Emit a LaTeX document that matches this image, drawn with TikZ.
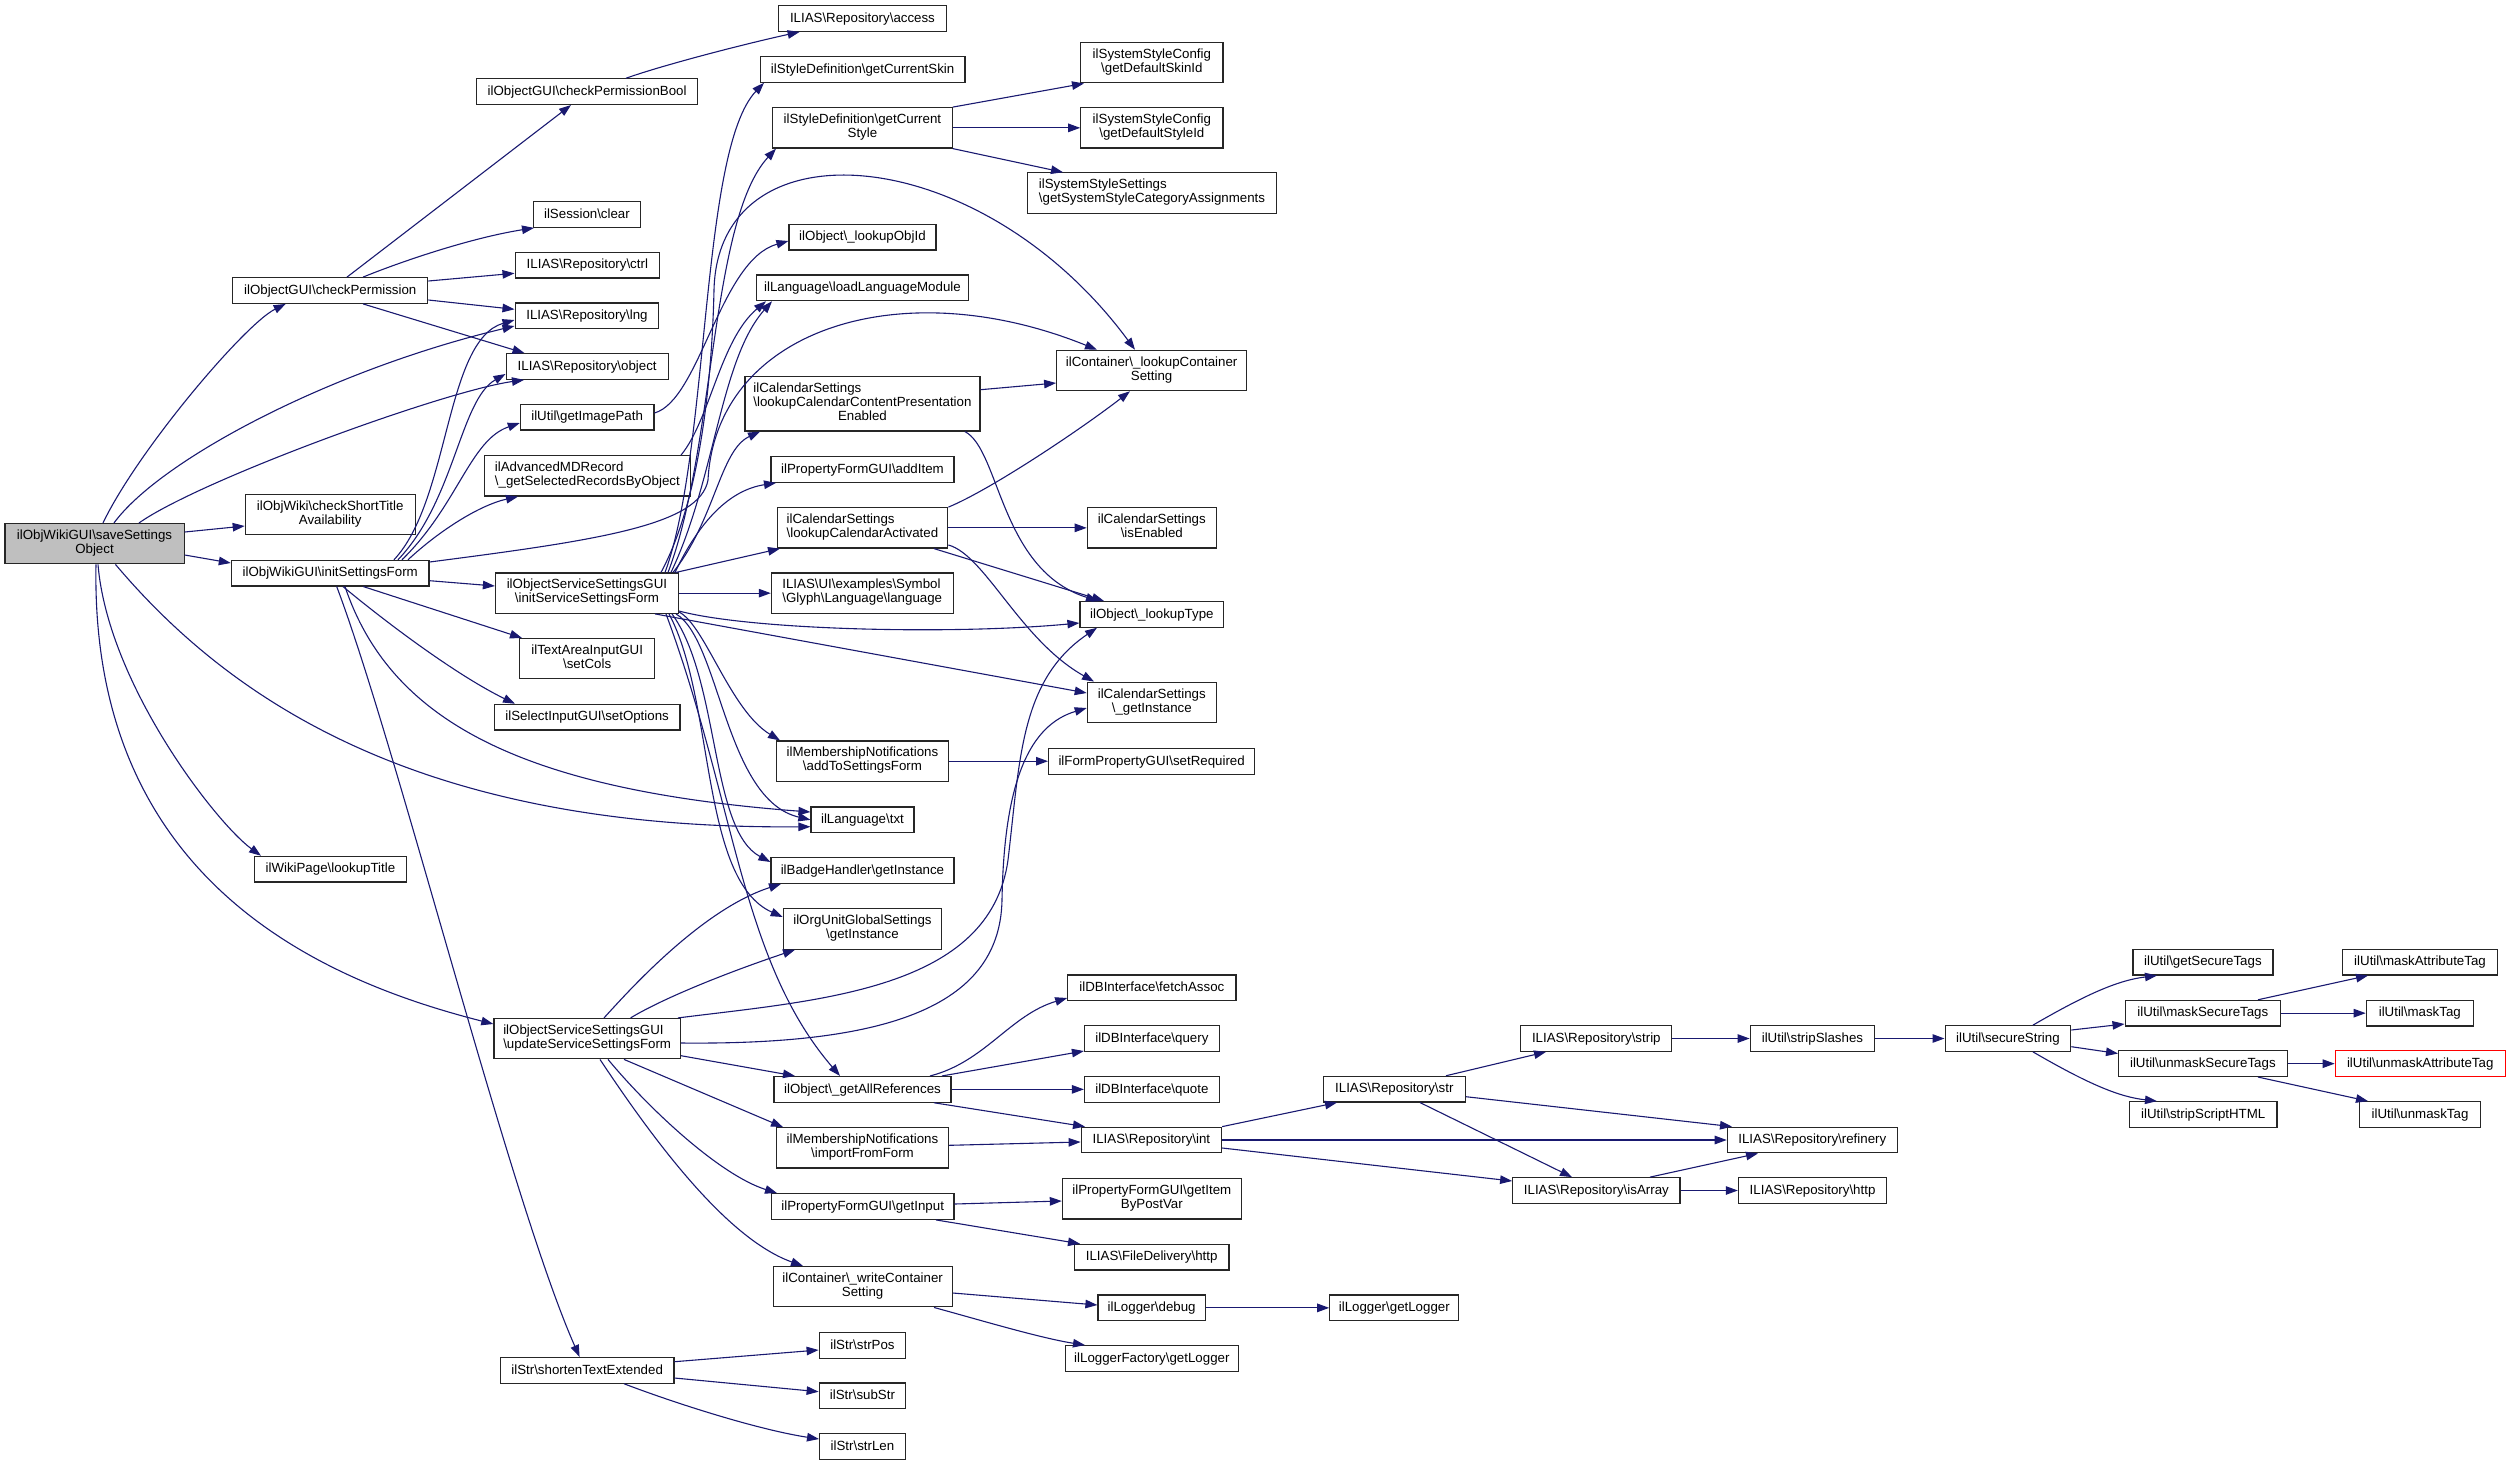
\documentclass[tikz,border=0pt]{standalone}
\usepackage{fontspec}
\setmainfont{Liberation Sans}
\usetikzlibrary{arrows.meta}
\definecolor{edgeblue}{HTML}{191970}
\definecolor{rootgray}{HTML}{BFBFBF}
\def\BSL{\textbackslash}
\def\NTwo#1#2{\begin{tabular}{@{}l@{}}#1\\\multicolumn{1}{@{}c@{}}{#2}\end{tabular}}
\def\NThree#1#2#3{\begin{tabular}{@{}l@{}}#1\\#2\\\multicolumn{1}{@{}c@{}}{#3}\end{tabular}}
\tikzset{
  nb/.style={draw=black!85, line width=1.2pt, fill=white, inner sep=0pt, minimum height=25.6pt,
    font=\fontsize{13.3}{14}\selectfont, execute at begin node={\rule[-3.2pt]{0pt}{14pt}}},
  nb2/.style={nb, minimum height=40.3pt},
  nb3/.style={nb, minimum height=54.3pt},
  call/.style={draw=edgeblue, line width=1.1pt, -{Triangle[length=12pt,width=8.5pt]}}
}
\begin{document}
\begin{tikzpicture}[x=1pt,y=-1pt]
\useasboundingbox (0,0) rectangle (2509,1465);
% ---------------- nodes ----------------
\node[nb2, fill=rootgray, minimum width=179.2pt] (S) at (94.5,543.7) {\NTwo{ilObjWikiGUI\BSL saveSettings}{Object}};
\node[nb, minimum width=195.1pt] (cp) at (330.25,290.5) {ilObjectGUI\BSL checkPermission};
\node[nb2, minimum width=169.8pt] (cs) at (330.2,514.3) {\NTwo{ilObjWiki\BSL checkShortTitle}{Availability}};
\node[nb, minimum width=197.6pt] (isf) at (330.2,573.15) {ilObjWikiGUI\BSL initSettingsForm};
\node[nb, minimum width=151.4pt] (lt) at (330.4,869.15) {ilWikiPage\BSL lookupTitle};
\node[nb, minimum width=220.9pt] (cpb) at (587.15,91.65) {ilObjectGUI\BSL checkPermissionBool};
\node[nb, minimum width=106.9pt] (clr) at (586.95,214.5) {ilSession\BSL clear};
\node[nb, minimum width=144.5pt] (ctrl) at (587.35,265.15) {ILIAS\BSL Repository\BSL ctrl};
\node[nb, minimum width=143.7pt] (lng) at (586.95,315.85) {ILIAS\BSL Repository\BSL lng};
\node[nb, minimum width=162.1pt] (obj) at (587.15,366.5) {ILIAS\BSL Repository\BSL object};
\node[nb, minimum width=133.5pt] (gip) at (587.15,417.15) {ilUtil\BSL getImagePath};
\node[nb2, minimum width=205.7pt] (amd) at (587.35,475.85) {\NTwo{ilAdvancedMDRecord}{\BSL\_getSelectedRecordsByObject}};
\node[nb2, minimum width=182.9pt] (iss) at (586.95,593.15) {\NTwo{ilObjectServiceSettingsGUI}{\BSL initServiceSettingsForm}};
\node[nb2, minimum width=135.1pt] (scol) at (587.15,658.7) {\NTwo{ilTextAreaInputGUI}{\BSL setCols}};
\node[nb, minimum width=185.7pt] (sopt) at (587.15,717.15) {ilSelectInputGUI\BSL setOptions};
\node[nb2, minimum width=186.5pt] (uss) at (587.15,1038.65) {\NTwo{ilObjectServiceSettingsGUI}{\BSL updateServiceSettingsForm}};
\node[nb, minimum width=173.5pt] (ste) at (587.15,1370.35) {ilStr\BSL shortenTextExtended};
\node[nb, minimum width=168.1pt] (acc) at (862.45,18.5) {ILIAS\BSL Repository\BSL access};
\node[nb, minimum width=204.5pt] (skin) at (862.65,69.35) {ilStyleDefinition\BSL getCurrentSkin};
\node[nb2, minimum width=179.5pt] (style) at (862.45,127.85) {\NTwo{ilStyleDefinition\BSL getCurrent}{Style}};
\node[nb, minimum width=146.9pt] (loid) at (862.45,237.15) {ilObject\BSL\_lookupObjId};
\node[nb, minimum width=211.5pt] (llm) at (862.45,287.85) {ilLanguage\BSL loadLanguageModule};
\node[nb3, minimum width=235.1pt] (cpe) at (862.45,403.85) {\NThree{ilCalendarSettings}{\BSL lookupCalendarContentPresentation}{Enabled}};
\node[nb, minimum width=182.9pt] (add) at (862.45,469.5) {ilPropertyFormGUI\BSL addItem};
\node[nb2, minimum width=170.7pt] (lca) at (862.45,527.85) {\NTwo{ilCalendarSettings}{\BSL lookupCalendarActivated}};
\node[nb2, minimum width=181.7pt] (sym) at (862.25,593.15) {\NTwo{ILIAS\BSL UI\BSL examples\BSL Symbol}{\BSL Glyph\BSL Language\BSL language}};
\node[nb2, minimum width=172.3pt] (atsf) at (862.45,761.15) {\NTwo{ilMembershipNotifications}{\BSL addToSettingsForm}};
\node[nb, minimum width=102.9pt] (txt) at (862.45,819.85) {ilLanguage\BSL txt};
\node[nb, minimum width=182.9pt] (bh) at (862.45,870.5) {ilBadgeHandler\BSL getInstance};
\node[nb2, minimum width=158.3pt] (ou) at (862.45,929) {\NTwo{ilOrgUnitGlobalSettings}{\BSL getInstance}};
\node[nb, minimum width=177.1pt] (gar) at (862.45,1089.35) {ilObject\BSL\_getAllReferences};
\node[nb2, minimum width=172.3pt] (iff) at (862.45,1147.85) {\NTwo{ilMembershipNotifications}{\BSL importFromForm}};
\node[nb, minimum width=182.5pt] (gin) at (862.65,1206.5) {ilPropertyFormGUI\BSL getInput};
\node[nb2, minimum width=179.1pt] (wcs) at (862.65,1286.7) {\NTwo{ilContainer\BSL\_writeContainer}{Setting}};
\node[nb, minimum width=86.5pt] (spos) at (862.45,1345.5) {ilStr\BSL strPos};
\node[nb, minimum width=86.5pt] (ssub) at (862.45,1395.85) {ilStr\BSL subStr};
\node[nb, minimum width=85.7pt] (slen) at (862.45,1446.65) {ilStr\BSL strLen};
\node[nb2, minimum width=142.1pt] (dsk) at (1151.85,62.7) {\NTwo{ilSystemStyleConfig}{\BSL getDefaultSkinId}};
\node[nb2, minimum width=142.1pt] (dst) at (1151.85,127.85) {\NTwo{ilSystemStyleConfig}{\BSL getDefaultStyleId}};
\node[nb2, minimum width=249.4pt] (ssc) at (1152,193) {\NTwo{ilSystemStyleSettings}{\BSL getSystemStyleCategoryAssignments}};
\node[nb2, minimum width=189.8pt] (lcs) at (1151.6,370.5) {\NTwo{ilContainer\BSL\_lookupContainer}{Setting}};
\node[nb2, minimum width=129pt] (ien) at (1151.8,527.85) {\NTwo{ilCalendarSettings}{\BSL isEnabled}};
\node[nb, minimum width=143.7pt] (ltp) at (1151.85,614.35) {ilObject\BSL\_lookupType};
\node[nb2, minimum width=129pt] (cin) at (1151.8,702.3) {\NTwo{ilCalendarSettings}{\BSL\_getInstance}};
\node[nb, minimum width=206.1pt] (srq) at (1151.65,761.35) {ilFormPropertyGUI\BSL setRequired};
\node[nb, minimum width=168.1pt] (fa) at (1151.85,987.85) {ilDBInterface\BSL fetchAssoc};
\node[nb, minimum width=134.7pt] (qry) at (1151.85,1038.65) {ilDBInterface\BSL query};
\node[nb, minimum width=134.7pt] (qte) at (1151.85,1089.35) {ilDBInterface\BSL quote};
\node[nb, minimum width=140.4pt] (int) at (1151.4,1140) {ILIAS\BSL Repository\BSL int};
\node[nb2, minimum width=178.8pt] (gibp) at (1151.8,1198.85) {\NTwo{ilPropertyFormGUI\BSL getItem}{ByPostVar}};
\node[nb, minimum width=154.7pt] (fdh) at (1151.65,1257.15) {ILIAS\BSL FileDelivery\BSL http};
\node[nb, minimum width=107.3pt] (dbg) at (1151.65,1307.85) {ilLogger\BSL debug};
\node[nb, minimum width=173.1pt] (lfl) at (1151.85,1358.5) {ilLoggerFactory\BSL getLogger};
\node[nb, minimum width=142pt] (str) at (1394.3,1089.15) {ILIAS\BSL Repository\BSL str};
\node[nb, minimum width=129pt] (lgl) at (1394.3,1307.85) {ilLogger\BSL getLogger};
\node[nb, minimum width=151pt] (strip) at (1596.3,1038.5) {ILIAS\BSL Repository\BSL strip};
\node[nb, minimum width=167.3pt] (isa) at (1596.35,1190.5) {ILIAS\BSL Repository\BSL isArray};
\node[nb, minimum width=124.5pt] (ssl) at (1812.45,1038.5) {ilUtil\BSL stripSlashes};
\node[nb, minimum width=170pt] (ref) at (1812.3,1140) {ILIAS\BSL Repository\BSL refinery};
\node[nb, minimum width=148.3pt] (rht) at (1812.55,1190.5) {ILIAS\BSL Repository\BSL http};
\node[nb, minimum width=125.7pt] (sec) at (2007.95,1038.5) {ilUtil\BSL secureString};
\node[nb, minimum width=140pt] (gst) at (2202.9,962.15) {ilUtil\BSL getSecureTags};
\node[nb, minimum width=155.5pt] (mst) at (2202.85,1013.15) {ilUtil\BSL maskSecureTags};
\node[nb, minimum width=168.5pt] (ust) at (2202.85,1063.65) {ilUtil\BSL unmaskSecureTags};
\node[nb, minimum width=147.3pt] (ssh) at (2203.25,1114.5) {ilUtil\BSL stripScriptHTML};
\node[nb, minimum width=155.6pt] (mat) at (2420,962.15) {ilUtil\BSL maskAttributeTag};
\node[nb, minimum width=107pt] (mtg) at (2419.8,1013.15) {ilUtil\BSL maskTag};
\node[nb, draw=red, minimum width=169.8pt] (uat) at (2420.2,1063.65) {ilUtil\BSL unmaskAttributeTag};
\node[nb, minimum width=120.4pt] (utg) at (2420,1114.5) {ilUtil\BSL unmaskTag};
% ---------------- edges ----------------
% saveSettingsObject
\draw[call] (103,0 |- S.north) .. controls (138,450) and (245,324) .. (285.7,0 |- cp.south);
\draw[call] (114,0 |- S.north) .. controls (160,460) and (330,370) .. (lng.west |- 0,326);
\draw[call] (139,0 |- S.north) .. controls (200,480) and (444,391) .. (524,0 |- obj.south);
\draw[call] (S.east |- 0,532) -- (cs.west |- 0,526);
\draw[call] (S.east |- 0,555) -- (isf.west |- 0,563);
\draw[call] (115.5,0 |- S.south) .. controls (230,700) and (420,830) .. (txt.west |- 0,826.7);
\draw[call] (98,0 |- S.south) .. controls (108,684) and (216,823) .. (261,0 |- lt.north);
\draw[call] (96,0 |- S.south) .. controls (90,880) and (320,980) .. (uss.west |- 0,1024);
% checkPermission
\draw[call] (347,0 |- cp.north) -- (571,0 |- cpb.south);
\draw[call] (363,0 |- cp.north) .. controls (400,262) and (470,238) .. (534,0 |- clr.south);
\draw[call] (cp.east |- 0,281) -- (ctrl.west |- 0,273.3);
\draw[call] (cp.east |- 0,300) -- (lng.west |- 0,309.3);
\draw[call] (363,0 |- cp.south) -- (524.5,0 |- obj.north);
\draw[call] (626,0 |- cpb.north) .. controls (660,66) and (740,45) .. (799.6,0 |- acc.south);
% initSettingsForm
\draw[call] (isf.east |- 0,580.7) -- (iss.west |- 0,586);
\draw[call] (363.3,0 |- isf.south) -- (522,0 |- scol.north);
\draw[call] (343,0 |- isf.south) .. controls (393,628) and (460,677) .. (515,0 |- sopt.north);
\draw[call] (345,0 |- isf.south) .. controls (390,720) and (520,790) .. (txt.west |- 0,812);
\draw[call] (336.7,0 |- isf.south) .. controls (397,746) and (510,1200) .. (579.6,0 |- ste.north);
\draw[call] (394,0 |- isf.north) .. controls (450,500) and (445,340) .. (lng.west |- 0,320);
\draw[call] (398,0 |- isf.north) .. controls (455,500) and (460,400) .. (obj.west |- 0,374);
\draw[call] (402,0 |- isf.north) .. controls (458,505) and (470,440) .. (gip.west |- 0,423);
\draw[call] (408,0 |- isf.north) .. controls (440,530) and (480,505) .. (518,0 |- amd.south);
\draw[call] (isf.east |- 0,562) .. controls (600,540) and (700,525) .. (708,480) .. controls (716,330) and (900,270) .. (1097,0 |- lcs.north);
% initServiceSettingsForm
\draw[call] (665,0 |- iss.north) .. controls (710,450) and (700,150) .. (764,0 |- skin.south);
\draw[call] (668,0 |- iss.north) .. controls (715,450) and (710,220) .. (776,0 |- style.south);
\draw[call] (661,0 |- iss.north) .. controls (700,500) and (712,380) .. (714,290) .. controls (718,120) and (980,140) .. (1135,0 |- lcs.north);
\draw[call] (671,0 |- iss.north) .. controls (715,480) and (720,360) .. (772,0 |- llm.south);
\draw[call] (673,0 |- iss.north) .. controls (715,520) and (720,450) .. (760,0 |- cpe.south);
\draw[call] (675,0 |- iss.north) .. controls (700,520) and (730,490) .. (776,0 |- add.south);
\draw[call] (676,0 |- iss.north) -- (780,0 |- lca.south);
\draw[call] (iss.east |- 0,593.15) -- (sym.west |- 0,593.15);
\draw[call] (iss.east |- 0,611) .. controls (750,630) and (950,635) .. (ltp.west |- 0,623);
\draw[call] (655,0 |- iss.south) -- (cin.west |- 0,693);
\draw[call] (iss.east |- 0,612) .. controls (705,625) and (730,710) .. (780,0 |- atsf.north);
\draw[call] (676,0 |- iss.south) .. controls (720,640) and (725,800) .. (txt.west |- 0,819.8);
\draw[call] (672,0 |- iss.south) .. controls (720,680) and (710,830) .. (bh.west |- 0,862);
\draw[call] (669,0 |- iss.south) .. controls (715,700) and (700,880) .. (ou.west |- 0,917);
\draw[call] (666,0 |- iss.south) .. controls (735,800) and (740,960) .. (840,0 |- gar.north);
% updateServiceSettingsForm
\draw[call] (604,0 |- uss.north) .. controls (625,995) and (700,910) .. (781,0 |- bh.south);
\draw[call] (630.6,0 |- uss.north) .. controls (660,1000) and (720,975) .. (795,0 |- ou.south);
\draw[call] (678,0 |- uss.north) .. controls (820,1000) and (990,990) .. (1008,860) .. controls (1020,760) and (1020,680) .. (1097,0 |- ltp.south);
\draw[call] (uss.east |- 0,1043) .. controls (880,1045) and (1000,1010) .. (1002,900) .. controls (1004,780) and (1030,725) .. (cin.west |- 0,708);
\draw[call] (uss.east |- 0,1055.7) -- (795,0 |- gar.north);
\draw[call] (624,0 |- uss.south) -- (783,0 |- iff.north);
\draw[call] (608,0 |- uss.south) .. controls (650,1110) and (720,1175) .. (777,0 |- gin.north);
\draw[call] (600,0 |- uss.south) .. controls (660,1150) and (730,1240) .. (803,0 |- wcs.north);
% shortenTextExtended
\draw[call] (ste.east |- 0,1361.7) -- (spos.west |- 0,1350);
\draw[call] (ste.east |- 0,1378) -- (ssub.west |- 0,1391.7);
\draw[call] (624,0 |- ste.south) .. controls (680,1405) and (760,1430) .. (slen.west |- 0,1439);
% third column
\draw[call] (style.north east) -- (1084,0 |- dsk.south);
\draw[call] (style.east) -- (dst.west);
\draw[call] (style.south east) -- (1063,0 |- ssc.north);
\draw[call] (gip.east |- 0,413) .. controls (700,400) and (720,260) .. (loid.west |- 0,241);
\draw[call] (681,0 |- amd.north) .. controls (710,420) and (720,340) .. (766,0 |- llm.south);
\draw[call] (cpe.east |- 0,389.7) -- (lcs.west |- 0,383);
\draw[call] (965,0 |- cpe.south) .. controls (1000,450) and (1000,570) .. (1098,0 |- ltp.north);
\draw[call] (lca.east |- 0,527.85) -- (ien.west |- 0,527.85);
\draw[call] (lca.north east) .. controls (990,490) and (1080,430) .. (1130,0 |- lcs.south);
\draw[call] (934,0 |- lca.south) -- (1104,0 |- ltp.north);
\draw[call] (lca.east |- 0,545) .. controls (985,555) and (1020,640) .. (1094,0 |- cin.north);
\draw[call] (atsf.east |- 0,761.2) -- (srq.west |- 0,761.2);
\draw[call] (930,0 |- gar.north) .. controls (985,1062) and (1010,1015) .. (fa.west |- 0,998);
\draw[call] (942,0 |- gar.north) -- (qry.west |- 0,1051);
\draw[call] (gar.east) -- (qte.west);
\draw[call] (934,0 |- gar.south) -- (1085,0 |- int.north);
\draw[call] (iff.east |- 0,1145.3) -- (int.west |- 0,1142);
\draw[call] (gin.east |- 0,1204) -- (gibp.west |- 0,1201);
\draw[call] (936,0 |- gin.south) -- (1080,0 |- fdh.north);
\draw[call] (wcs.east |- 0,1293) -- (dbg.west |- 0,1305);
\draw[call] (934,0 |- wcs.south) .. controls (980,1320) and (1040,1338) .. (1085,0 |- lfl.north);
\draw[call] (dbg.east) -- (lgl.west);
% right part
\draw[call] (int.north east) -- (1337,0 |- str.south);
\draw[call] (int.east) -- (ref.west);
\draw[call] (int.east |- 0,1148) -- (isa.west |- 0,1181);
\draw[call] (1446,0 |- str.north) -- (1546,0 |- strip.south);
\draw[call] (str.east |- 0,1096.7) -- (1732,0 |- ref.north);
\draw[call] (1420,0 |- str.south) -- (1572,0 |- isa.north);
\draw[call] (1650,0 |- isa.north) -- (1758,0 |- ref.south);
\draw[call] (isa.east) -- (rht.west);
\draw[call] (strip.east) -- (ssl.west);
\draw[call] (ssl.east) -- (sec.west);
\draw[call] (2033,0 |- sec.north) .. controls (2090,992) and (2120,980) .. (2157,0 |- gst.south);
\draw[call] (sec.east |- 0,1030) -- (mst.west |- 0,1024);
\draw[call] (sec.east |- 0,1046.7) -- (ust.west |- 0,1053.5);
\draw[call] (2033,0 |- sec.south) .. controls (2090,1085) and (2120,1097) .. (2157,0 |- ssh.north);
\draw[call] (2258,0 |- mst.north) -- (2368,0 |- mat.south);
\draw[call] (mst.east) -- (mtg.west);
\draw[call] (ust.east) -- (uat.west);
\draw[call] (2258,0 |- ust.south) -- (2368,0 |- utg.north);
\end{tikzpicture}
\end{document}
